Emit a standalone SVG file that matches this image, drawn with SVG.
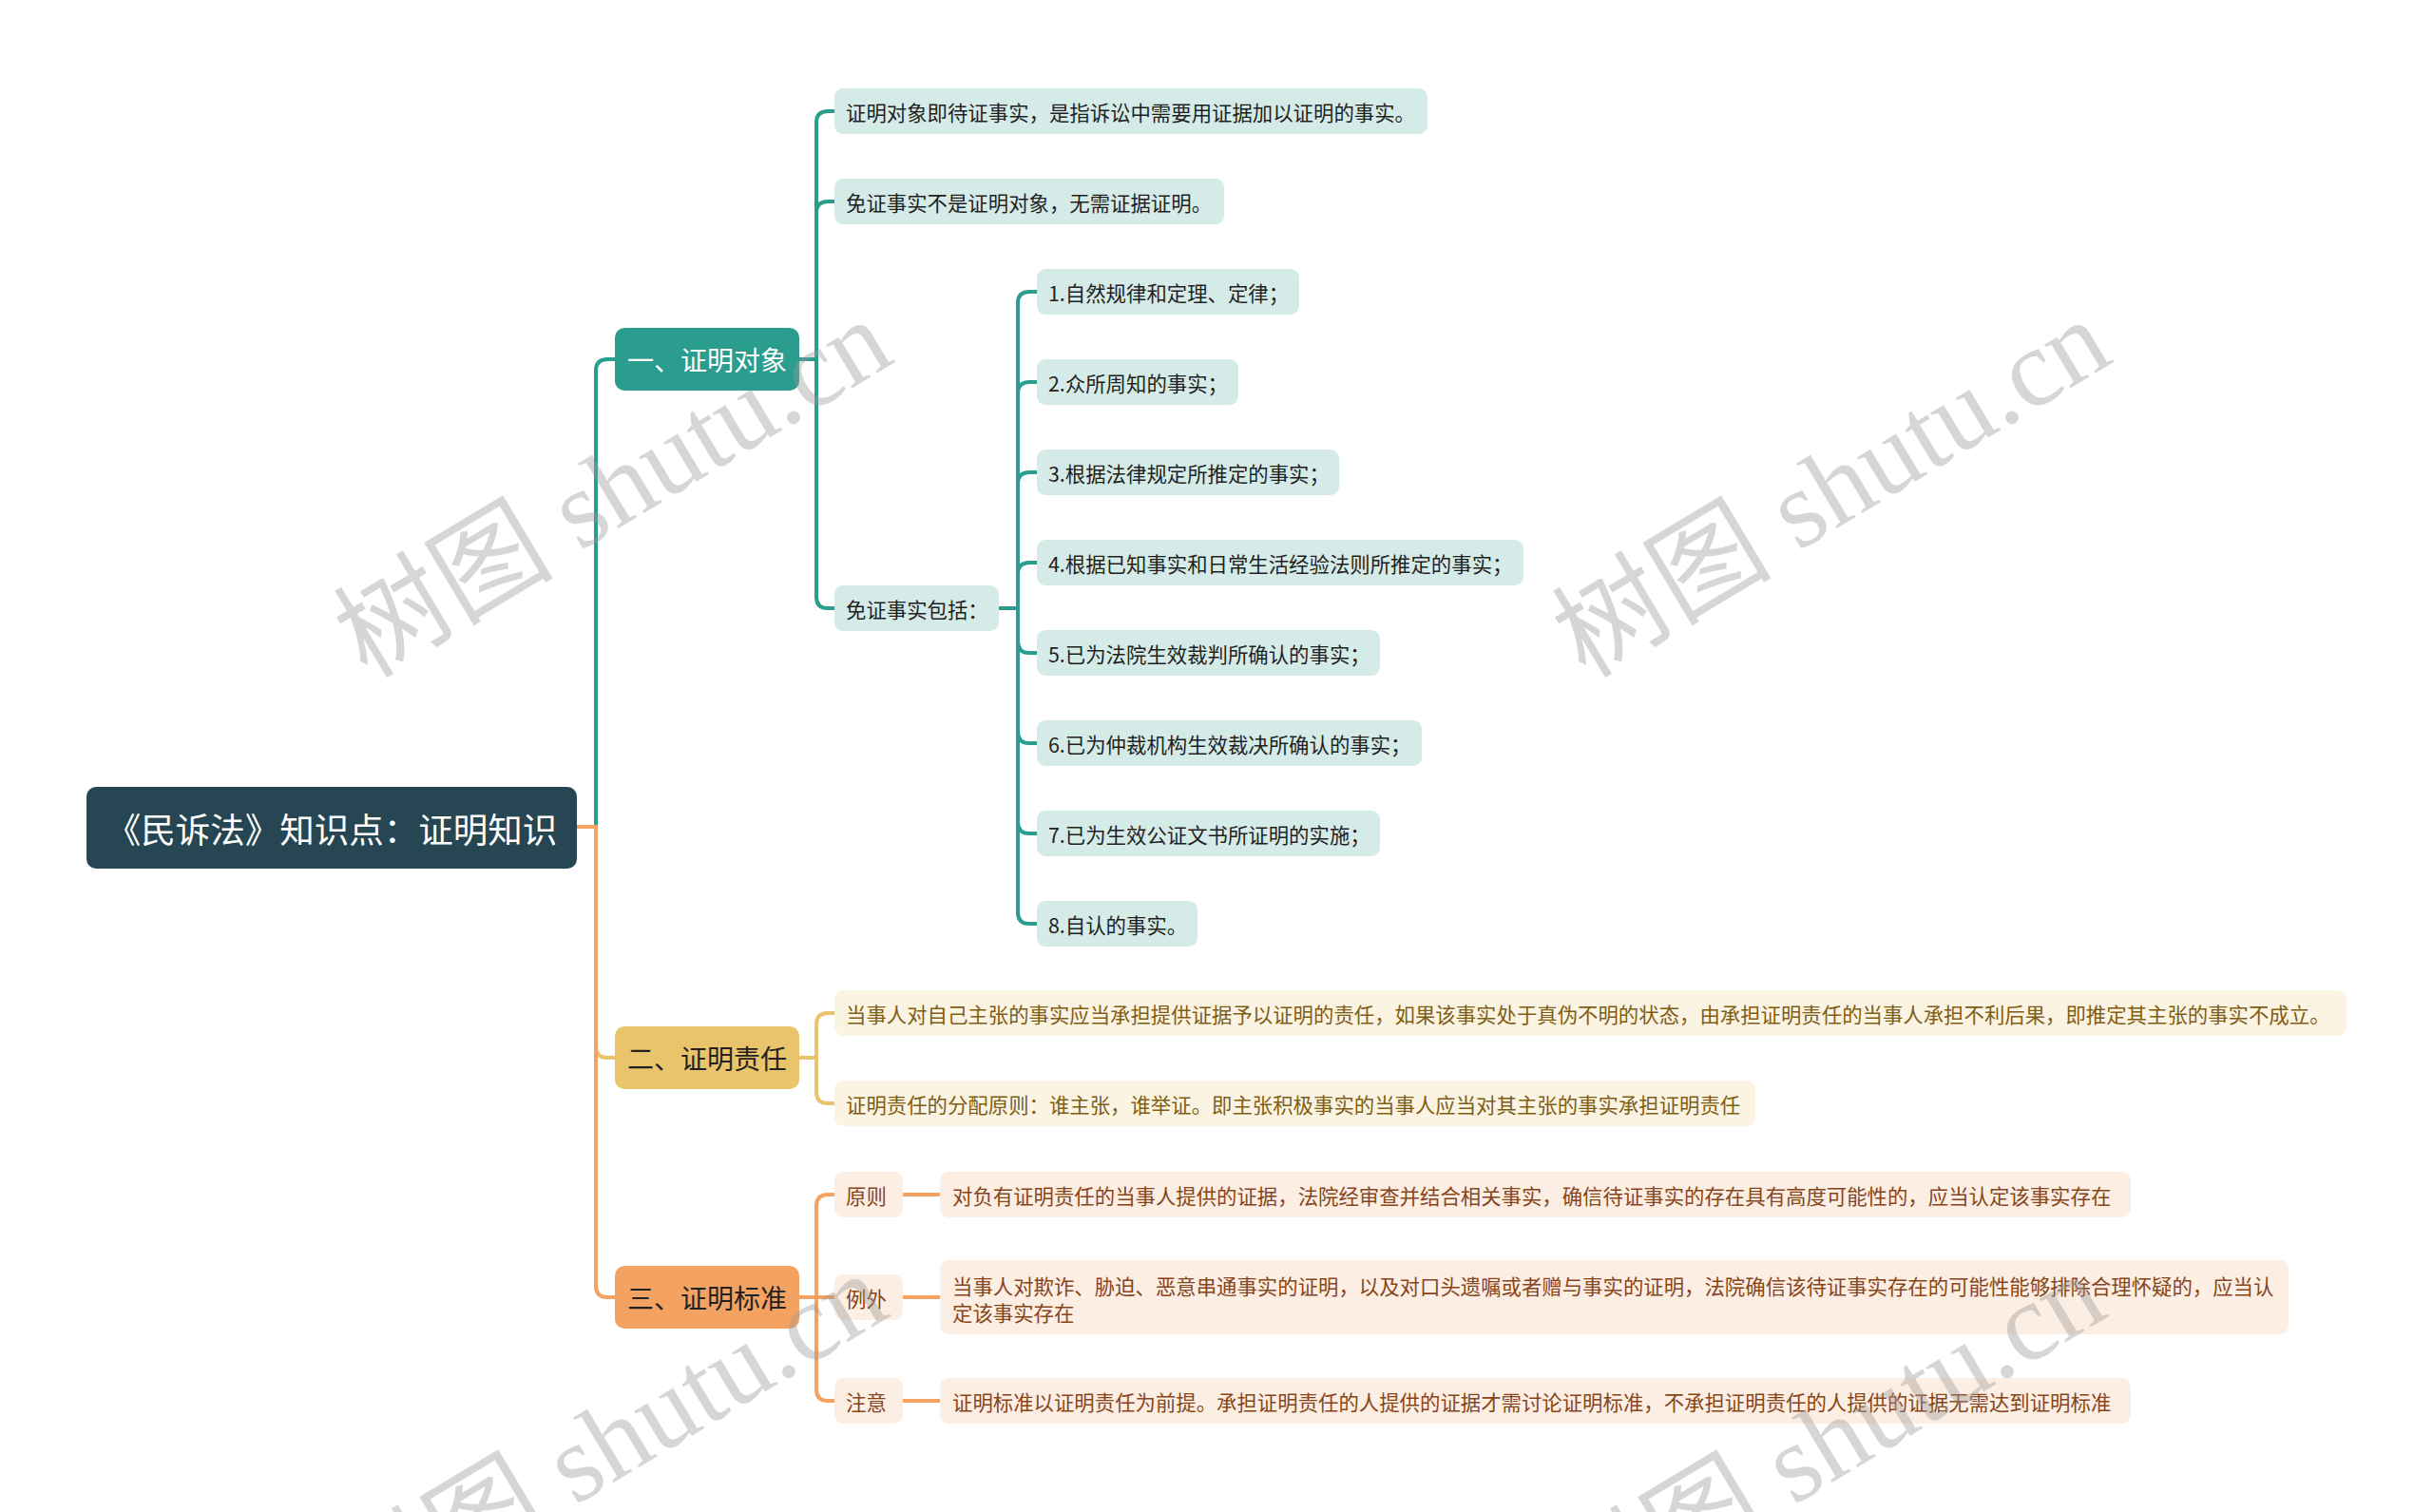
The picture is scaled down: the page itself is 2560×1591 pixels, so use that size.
<svg xmlns="http://www.w3.org/2000/svg" width="2560" height="1591" viewBox="0 0 2560 1591">
<style>
text{font-family:"Noto Sans CJK SC","Noto Sans",sans-serif;dominant-baseline:central}
.root{fill:#264653}
.l1a{fill:#2a9d8f}.l1b{fill:#e9c46a}.l1c{fill:#f4a261}
.ta{fill:#d5ebe8}.tb{fill:#fcf4e3}.tc{fill:#fdeee3}
.t-root{font-size:36.5px;fill:#ffffff;text-anchor:middle}
.t-l1w{font-size:28px;fill:#ffffff;text-anchor:middle}
.t-l1d{font-size:28px;fill:#222222;text-anchor:middle}
.t-a{font-size:21.4px;fill:#1f1f1f}
.t-b{font-size:21.4px;fill:#7f5d14}
.t-c{font-size:21.4px;fill:#86451a}
.c{fill:none;stroke-width:4;stroke-linecap:round;stroke-linejoin:round}
.ca{stroke:#2a9d8f}.cb{stroke:#e9c46a}.cc{stroke:#f4a261}
.wm{font-family:"Liberation Serif","Noto Sans CJK SC",serif;font-size:116px;fill:#999999;fill-opacity:0.4;text-anchor:middle}
</style>
<rect width="2560" height="1591" fill="#ffffff"/>
<g id="connectors">
<path class="c ca" d="M627 870 V390 Q627 378 639 378 H647"/>
<path class="c cb" d="M627 870 V1101 Q627 1113 639 1113 H647"/>
<path class="c cc" d="M607 870 H627 V1353 Q627 1365 639 1365 H647"/>
<path class="c ca" d="M841 378 H859 V129 Q859 117 871 117 H878"/>
<path class="c ca" d="M859 378 V224 Q859 212 871 212 H878"/>
<path class="c ca" d="M859 378 V628 Q859 640 871 640 H878"/>
<path class="c ca" d="M1051 640 H1071 V319 Q1071 307 1083 307 H1091"/>
<path class="c ca" d="M1071 640 V414 Q1071 402 1083 402 H1091"/>
<path class="c ca" d="M1071 640 V509 Q1071 497 1083 497 H1091"/>
<path class="c ca" d="M1071 640 V604 Q1071 592 1083 592 H1091"/>
<path class="c ca" d="M1071 640 V675 Q1071 687 1083 687 H1091"/>
<path class="c ca" d="M1071 640 V770 Q1071 782 1083 782 H1091"/>
<path class="c ca" d="M1071 640 V865 Q1071 877 1083 877 H1091"/>
<path class="c ca" d="M1071 640 V960 Q1071 972 1083 972 H1091"/>
<path class="c cb" d="M841 1113 H859 V1078 Q859 1066 871 1066 H878"/>
<path class="c cb" d="M859 1113 V1149 Q859 1161 871 1161 H878"/>
<path class="c cc" d="M841 1365 H859 V1269 Q859 1257 871 1257 H878"/>
<path class="c cc" d="M859 1365 H878"/>
<path class="c cc" d="M859 1365 V1462 Q859 1474 871 1474 H878"/>
<path class="c cc" d="M950 1257 H989"/>
<path class="c cc" d="M950 1365 H989"/>
<path class="c cc" d="M950 1474 H989"/>
</g>
<g id="root"><rect class="root" x="91" y="828" width="516" height="86" rx="10"/><text class="t-root" x="349" y="871">《民诉法》知识点：证明知识</text></g>
<g id="n1"><rect class="l1a" x="647" y="345" width="194" height="66" rx="10"/><text class="t-l1w" x="744" y="378">一、证明对象</text></g>
<g id="n2"><rect class="l1b" x="647" y="1080" width="194" height="66" rx="10"/><text class="t-l1d" x="744" y="1113">二、证明责任</text></g>
<g id="n3"><rect class="l1c" x="647" y="1332" width="194" height="66" rx="10"/><text class="t-l1d" x="744" y="1365">三、证明标准</text></g>
<g id="a1"><rect class="ta" x="878" y="93" width="624" height="48" rx="9"/><text class="t-a" x="890" y="117">证明对象即待证事实，是指诉讼中需要用证据加以证明的事实。</text></g>
<g id="a2"><rect class="ta" x="878" y="188" width="410" height="48" rx="9"/><text class="t-a" x="890" y="212">免证事实不是证明对象，无需证据证明。</text></g>
<g id="a3"><rect class="ta" x="878" y="616" width="173" height="48" rx="9"/><text class="t-a" x="890" y="640">免证事实包括：</text></g>
<g id="a3-1"><rect class="ta" x="1091" y="283" width="276" height="48" rx="9"/><text class="t-a" x="1103" y="307">1.自然规律和定理、定律；</text></g>
<g id="a3-2"><rect class="ta" x="1091" y="378" width="212" height="48" rx="9"/><text class="t-a" x="1103" y="402">2.众所周知的事实；</text></g>
<g id="a3-3"><rect class="ta" x="1091" y="473" width="318" height="48" rx="9"/><text class="t-a" x="1103" y="497">3.根据法律规定所推定的事实；</text></g>
<g id="a3-4"><rect class="ta" x="1091" y="568" width="512" height="48" rx="9"/><text class="t-a" x="1103" y="592">4.根据已知事实和日常生活经验法则所推定的事实；</text></g>
<g id="a3-5"><rect class="ta" x="1091" y="663" width="361" height="48" rx="9"/><text class="t-a" x="1103" y="687">5.已为法院生效裁判所确认的事实；</text></g>
<g id="a3-6"><rect class="ta" x="1091" y="758" width="405" height="48" rx="9"/><text class="t-a" x="1103" y="782">6.已为仲裁机构生效裁决所确认的事实；</text></g>
<g id="a3-7"><rect class="ta" x="1091" y="853" width="361" height="48" rx="9"/><text class="t-a" x="1103" y="877">7.已为生效公证文书所证明的实施；</text></g>
<g id="a3-8"><rect class="ta" x="1091" y="948" width="169" height="48" rx="9"/><text class="t-a" x="1103" y="972">8.自认的事实。</text></g>
<g id="b1"><rect class="tb" x="878" y="1042" width="1591" height="48" rx="9"/><text class="t-b" x="890" y="1066">当事人对自己主张的事实应当承担提供证据予以证明的责任，如果该事实处于真伪不明的状态，由承担证明责任的当事人承担不利后果，即推定其主张的事实不成立。</text></g>
<g id="b2"><rect class="tb" x="878" y="1137" width="969" height="48" rx="9"/><text class="t-b" x="890" y="1161">证明责任的分配原则：谁主张，谁举证。即主张积极事实的当事人应当对其主张的事实承担证明责任</text></g>
<g id="c1"><rect class="tc" x="878" y="1233" width="72" height="48" rx="9"/><text class="t-c" x="890" y="1257">原则</text></g>
<g id="c2"><rect class="tc" x="878" y="1341" width="72" height="48" rx="9"/><text class="t-c" x="890" y="1365">例外</text></g>
<g id="c3"><rect class="tc" x="878" y="1450" width="72" height="48" rx="9"/><text class="t-c" x="890" y="1474">注意</text></g>
<g id="c1-1"><rect class="tc" x="989" y="1233" width="1253" height="48" rx="9"/><text class="t-c" x="1002" y="1257">对负有证明责任的当事人提供的证据，法院经审查并结合相关事实，确信待证事实的存在具有高度可能性的，应当认定该事实存在</text></g>
<g id="c2-1"><rect class="tc" x="989" y="1326" width="1419" height="78" rx="9"/><text class="t-c" x="1002" y="1352">当事人对欺诈、胁迫、恶意串通事实的证明，以及对口头遗嘱或者赠与事实的证明，法院确信该待证事实存在的可能性能够排除合理怀疑的，应当认</text><text class="t-c" x="1002" y="1380">定该事实存在</text></g>
<g id="c3-1"><rect class="tc" x="989" y="1450" width="1253" height="48" rx="9"/><text class="t-c" x="1002" y="1474">证明标准以证明责任为前提。承担证明责任的人提供的证据才需讨论证明标准，不承担证明责任的人提供的证据无需达到证明标准</text></g>
<g id="watermarks">
<text class="wm" transform="translate(645,514) rotate(-31)">树图 shutu.cn</text>
<text class="wm" transform="translate(1927,514) rotate(-31)">树图 shutu.cn</text>
<text class="wm" transform="translate(640,1518) rotate(-31)">树图 shutu.cn</text>
<text class="wm" transform="translate(1922,1518) rotate(-31)">树图 shutu.cn</text>
</g>
</svg>
